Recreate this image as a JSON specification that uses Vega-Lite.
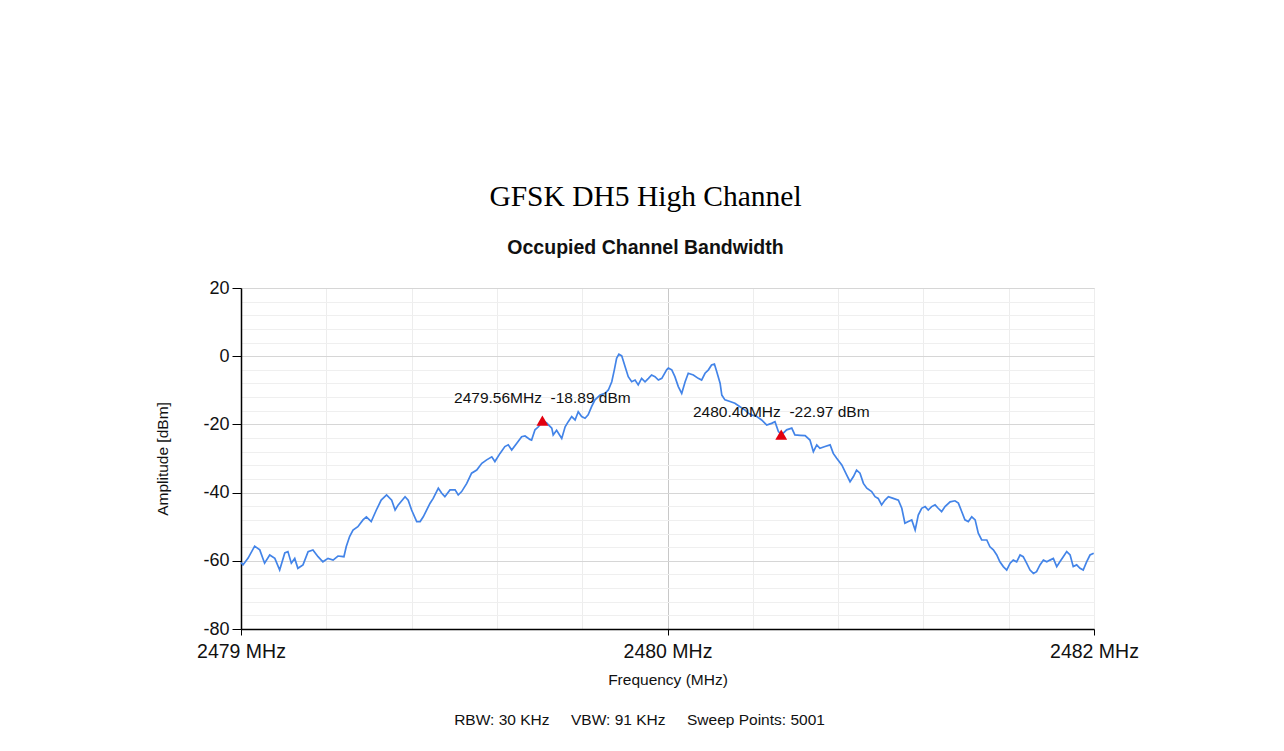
{
  "$schema": "https://vega.github.io/schema/vega-lite/v6.json",
  "width": 853,
  "height": 341,
  "autosize": "none",
  "padding": {"left": 241, "top": 288, "right": 190, "bottom": 122},
  "background": "white",
  "config": {
    "view": {"stroke": "#d6d6d6"},
    "font": "Liberation Sans"
  },
  "title": {
    "text": "GFSK DH5 High Channel",
    "subtitle": "Occupied Channel Bandwidth",
    "font": "Liberation Serif",
    "fontSize": 29.5,
    "fontWeight": "normal",
    "color": "#000000",
    "subtitleFont": "Liberation Sans",
    "subtitleFontSize": 19.5,
    "subtitleFontWeight": "bold",
    "subtitleColor": "#111111",
    "subtitlePadding": 26,
    "offset": 21,
    "dx": -22,
    "anchor": "middle"
  },
  "datasets": {
    "trace": [
      {"f": 2478.5, "a": -60.5}, {"f": 2478.507, "a": -61.2}, {"f": 2478.525, "a": -59.2}, {"f": 2478.548, "a": -55.7},
      {"f": 2478.566, "a": -56.8}, {"f": 2478.583, "a": -60.7}, {"f": 2478.601, "a": -58.3}, {"f": 2478.619, "a": -59.3},
      {"f": 2478.636, "a": -62.7}, {"f": 2478.654, "a": -57.7}, {"f": 2478.665, "a": -57.3}, {"f": 2478.677, "a": -60.7},
      {"f": 2478.689, "a": -59.3}, {"f": 2478.700, "a": -62.2}, {"f": 2478.718, "a": -61.2}, {"f": 2478.736, "a": -57.3},
      {"f": 2478.753, "a": -56.8}, {"f": 2478.771, "a": -58.8}, {"f": 2478.788, "a": -60.3}, {"f": 2478.806, "a": -59.3},
      {"f": 2478.824, "a": -59.8}, {"f": 2478.841, "a": -58.6}, {"f": 2478.862, "a": -58.8}, {"f": 2478.870, "a": -55.9},
      {"f": 2478.882, "a": -52.9}, {"f": 2478.894, "a": -51.0}, {"f": 2478.911, "a": -50.0}, {"f": 2478.929, "a": -48.0},
      {"f": 2478.941, "a": -47.1}, {"f": 2478.958, "a": -48.5}, {"f": 2478.976, "a": -45.1}, {"f": 2478.993, "a": -42.2},
      {"f": 2479.012, "a": -40.7}, {"f": 2479.030, "a": -42.2}, {"f": 2479.042, "a": -45.1}, {"f": 2479.053, "a": -43.6},
      {"f": 2479.077, "a": -41.2}, {"f": 2479.088, "a": -42.2}, {"f": 2479.100, "a": -45.1}, {"f": 2479.118, "a": -48.5},
      {"f": 2479.130, "a": -48.5}, {"f": 2479.141, "a": -47.1}, {"f": 2479.165, "a": -43.1}, {"f": 2479.176, "a": -41.7},
      {"f": 2479.194, "a": -38.7}, {"f": 2479.206, "a": -40.2}, {"f": 2479.217, "a": -41.2}, {"f": 2479.235, "a": -39.2},
      {"f": 2479.253, "a": -39.2}, {"f": 2479.264, "a": -40.7}, {"f": 2479.276, "a": -39.7}, {"f": 2479.294, "a": -37.3},
      {"f": 2479.311, "a": -34.3}, {"f": 2479.329, "a": -33.4}, {"f": 2479.347, "a": -31.4}, {"f": 2479.364, "a": -30.4},
      {"f": 2479.382, "a": -29.5}, {"f": 2479.393, "a": -30.9}, {"f": 2479.411, "a": -28.5}, {"f": 2479.428, "a": -26.5},
      {"f": 2479.440, "a": -26.0}, {"f": 2479.452, "a": -27.5}, {"f": 2479.470, "a": -25.5}, {"f": 2479.487, "a": -23.6},
      {"f": 2479.499, "a": -23.4}, {"f": 2479.516, "a": -24.4}, {"f": 2479.522, "a": -24.6}, {"f": 2479.534, "a": -21.6},
      {"f": 2479.546, "a": -20.7}, {"f": 2479.562, "a": -18.9}, {"f": 2479.575, "a": -19.6}, {"f": 2479.593, "a": -21.1},
      {"f": 2479.598, "a": -23.1}, {"f": 2479.610, "a": -21.7}, {"f": 2479.628, "a": -24.1}, {"f": 2479.640, "a": -20.7},
      {"f": 2479.651, "a": -19.2}, {"f": 2479.663, "a": -17.7}, {"f": 2479.675, "a": -18.7}, {"f": 2479.686, "a": -16.3},
      {"f": 2479.698, "a": -17.7}, {"f": 2479.710, "a": -18.2}, {"f": 2479.721, "a": -17.2}, {"f": 2479.733, "a": -14.8},
      {"f": 2479.745, "a": -12.8}, {"f": 2479.763, "a": -11.4}, {"f": 2479.780, "a": -10.9}, {"f": 2479.792, "a": -9.9},
      {"f": 2479.804, "a": -7.5}, {"f": 2479.813, "a": -4.0}, {"f": 2479.821, "a": -0.6}, {"f": 2479.829, "a": 0.6},
      {"f": 2479.839, "a": 0.1}, {"f": 2479.851, "a": -3.1}, {"f": 2479.862, "a": -6.0}, {"f": 2479.874, "a": -7.5},
      {"f": 2479.886, "a": -7.0}, {"f": 2479.897, "a": -8.4}, {"f": 2479.909, "a": -6.5}, {"f": 2479.921, "a": -7.5},
      {"f": 2479.933, "a": -6.5}, {"f": 2479.944, "a": -5.5}, {"f": 2479.956, "a": -6.0}, {"f": 2479.968, "a": -7.0},
      {"f": 2479.980, "a": -6.5}, {"f": 2479.997, "a": -4.0}, {"f": 2480.003, "a": -3.5}, {"f": 2480.015, "a": -4.0},
      {"f": 2480.026, "a": -6.0}, {"f": 2480.038, "a": -8.9}, {"f": 2480.050, "a": -10.9}, {"f": 2480.062, "a": -7.5},
      {"f": 2480.073, "a": -5.0}, {"f": 2480.091, "a": -5.5}, {"f": 2480.108, "a": -6.5}, {"f": 2480.120, "a": -7.0},
      {"f": 2480.132, "a": -5.0}, {"f": 2480.144, "a": -4.0}, {"f": 2480.155, "a": -2.6}, {"f": 2480.165, "a": -2.3},
      {"f": 2480.173, "a": -4.5}, {"f": 2480.185, "a": -7.9}, {"f": 2480.191, "a": -11.4}, {"f": 2480.202, "a": -12.8},
      {"f": 2480.220, "a": -13.3}, {"f": 2480.237, "a": -13.8}, {"f": 2480.255, "a": -14.8}, {"f": 2480.273, "a": -15.8},
      {"f": 2480.284, "a": -16.7}, {"f": 2480.296, "a": -17.2}, {"f": 2480.314, "a": -17.7}, {"f": 2480.331, "a": -18.7},
      {"f": 2480.349, "a": -20.2}, {"f": 2480.366, "a": -19.7}, {"f": 2480.378, "a": -19.2}, {"f": 2480.390, "a": -22.1},
      {"f": 2480.402, "a": -23.0}, {"f": 2480.419, "a": -21.6}, {"f": 2480.437, "a": -21.1}, {"f": 2480.448, "a": -23.1},
      {"f": 2480.466, "a": -23.2}, {"f": 2480.484, "a": -23.3}, {"f": 2480.501, "a": -24.6}, {"f": 2480.513, "a": -28.0},
      {"f": 2480.525, "a": -26.0}, {"f": 2480.536, "a": -27.0}, {"f": 2480.554, "a": -26.5}, {"f": 2480.572, "a": -26.0},
      {"f": 2480.583, "a": -28.5}, {"f": 2480.595, "a": -29.9}, {"f": 2480.613, "a": -31.9}, {"f": 2480.630, "a": -34.8},
      {"f": 2480.642, "a": -36.8}, {"f": 2480.654, "a": -35.3}, {"f": 2480.665, "a": -33.4}, {"f": 2480.677, "a": -34.3},
      {"f": 2480.689, "a": -37.3}, {"f": 2480.701, "a": -38.7}, {"f": 2480.718, "a": -39.7}, {"f": 2480.730, "a": -41.2},
      {"f": 2480.741, "a": -41.7}, {"f": 2480.753, "a": -43.6}, {"f": 2480.765, "a": -42.2}, {"f": 2480.777, "a": -41.2},
      {"f": 2480.794, "a": -41.7}, {"f": 2480.812, "a": -42.2}, {"f": 2480.824, "a": -44.6}, {"f": 2480.835, "a": -49.0},
      {"f": 2480.847, "a": -48.5}, {"f": 2480.859, "a": -48.0}, {"f": 2480.871, "a": -51.0}, {"f": 2480.882, "a": -46.6},
      {"f": 2480.894, "a": -44.6}, {"f": 2480.906, "a": -44.1}, {"f": 2480.917, "a": -45.1}, {"f": 2480.929, "a": -44.1},
      {"f": 2480.941, "a": -43.6}, {"f": 2480.952, "a": -44.6}, {"f": 2480.964, "a": -45.6}, {"f": 2480.976, "a": -44.1},
      {"f": 2480.994, "a": -42.7}, {"f": 2481.011, "a": -42.4}, {"f": 2481.023, "a": -43.1}, {"f": 2481.035, "a": -45.6},
      {"f": 2481.046, "a": -48.0}, {"f": 2481.058, "a": -48.5}, {"f": 2481.070, "a": -47.1}, {"f": 2481.082, "a": -48.0},
      {"f": 2481.093, "a": -51.9}, {"f": 2481.105, "a": -53.9}, {"f": 2481.123, "a": -53.9}, {"f": 2481.134, "a": -55.9},
      {"f": 2481.146, "a": -56.8}, {"f": 2481.158, "a": -58.3}, {"f": 2481.169, "a": -60.3}, {"f": 2481.181, "a": -61.7},
      {"f": 2481.193, "a": -62.7}, {"f": 2481.205, "a": -60.7}, {"f": 2481.216, "a": -59.8}, {"f": 2481.228, "a": -60.3},
      {"f": 2481.240, "a": -58.3}, {"f": 2481.251, "a": -58.8}, {"f": 2481.263, "a": -60.7}, {"f": 2481.275, "a": -62.7},
      {"f": 2481.287, "a": -63.7}, {"f": 2481.298, "a": -63.2}, {"f": 2481.310, "a": -61.2}, {"f": 2481.322, "a": -59.8},
      {"f": 2481.334, "a": -60.3}, {"f": 2481.345, "a": -59.8}, {"f": 2481.357, "a": -59.3}, {"f": 2481.369, "a": -61.7},
      {"f": 2481.380, "a": -60.3}, {"f": 2481.392, "a": -58.8}, {"f": 2481.404, "a": -57.3}, {"f": 2481.416, "a": -58.3},
      {"f": 2481.427, "a": -61.7}, {"f": 2481.439, "a": -61.2}, {"f": 2481.451, "a": -62.2}, {"f": 2481.462, "a": -62.7},
      {"f": 2481.474, "a": -60.3}, {"f": 2481.486, "a": -58.3}, {"f": 2481.499, "a": -57.8}
    ],
    "markers": [
      {"f": 2479.56, "a": -18.89, "label": "2479.56MHz\u00a0\u00a0-18.89 dBm"},
      {"f": 2480.40, "a": -22.97, "label": "2480.40MHz\u00a0\u00a0-22.97 dBm"}
    ]
  },
  "resolve": {"axis": {"x": "independent"}},
  "encoding": {
    "y": {
      "field": "a",
      "type": "quantitative",
      "scale": {"domain": [-80, 20], "nice": false, "zero": false},
      "axis": {
        "values": [-80, -76, -72, -68, -64, -60, -56, -52, -48, -44, -40, -36, -32, -28, -24, -20, -16, -12, -8, -4, 0, 4, 8, 12, 16, 20],
        "labelExpr": "datum.value % 20 === 0 ? '' + datum.value : ''",
        "labelFontSize": 18,
        "labelColor": "#111111",
        "labelPadding": 3,
        "tickSize": 9,
        "tickColor": "#000000",
        "tickOpacity": {"condition": {"test": "datum.value % 20 === 0", "value": 1}, "value": 0},
        "domainColor": "#000000",
        "domainWidth": 1.5,
        "gridColor": {"condition": {"test": "datum.value % 20 === 0", "value": "#d6d6d6"}, "value": "#efefef"},
        "gridOpacity": 1,
        "title": "Amplitude [dBm]",
        "titleFontSize": 15.5,
        "titleFontWeight": "normal",
        "titleColor": "#111111",
        "titlePadding": 32
      }
    }
  },
  "layer": [
    {
      "data": {"name": "trace"},
      "mark": {"type": "line", "color": "#4384e8", "strokeWidth": 1.7, "interpolate": "linear"},
      "encoding": {
        "x": {
          "field": "f",
          "type": "quantitative",
          "scale": {"domain": [2478.5, 2481.5], "nice": false, "zero": false},
          "axis": {
            "orient": "bottom",
            "values": [2478.5, 2478.8, 2479.1, 2479.4, 2479.7, 2480, 2480.3, 2480.6, 2480.9, 2481.2, 2481.5],
            "labelExpr": "(abs(datum.value-2480)<0.01 || abs(datum.value-2478.5)<0.01 || abs(datum.value-2481.5)<0.01) ? format(round(datum.value),'d') + ' MHz' : ''",
            "labelFlush": false,
            "labelOverlap": false,
            "labelFontSize": 19.5,
            "labelColor": "#111111",
            "labelPadding": 7,
            "tickSize": 6,
            "tickColor": "#000000",
            "tickOpacity": {"condition": {"test": "abs(datum.value-2480)<0.01 || abs(datum.value-2478.5)<0.01 || abs(datum.value-2481.5)<0.01", "value": 1}, "value": 0},
            "domainColor": "#000000",
            "domainWidth": 1.5,
            "gridColor": {"condition": {"test": "abs(datum.value-2480)<0.01", "value": "#c8c8c8"}, "value": "#ededed"},
            "gridOpacity": 1,
            "title": "Frequency (MHz)",
            "titleFontSize": 15.5,
            "titleFontWeight": "normal",
            "titleColor": "#111111",
            "titlePadding": 12
          }
        }
      }
    },
    {
      "data": {"name": "markers"},
      "mark": {"type": "point", "shape": "triangle-up", "filled": true, "color": "#e3000f", "size": 140, "opacity": 1},
      "encoding": {
        "x": {
          "field": "f",
          "type": "quantitative",
          "axis": {
            "orient": "bottom",
            "labels": false,
            "ticks": false,
            "domain": false,
            "grid": false,
            "title": "RBW: 30 KHz\u00a0\u00a0\u00a0\u00a0\u00a0VBW: 91 KHz\u00a0\u00a0\u00a0\u00a0\u00a0Sweep Points: 5001",
            "titleX": 398,
            "titleFontSize": 15.5,
            "titleFontWeight": "normal",
            "titleColor": "#111111",
            "titlePadding": 83
          }
        }
      }
    },
    {
      "data": {"name": "markers"},
      "mark": {"type": "text", "dy": -23, "fontSize": 15.5, "color": "#111111", "font": "Liberation Sans"},
      "encoding": {
        "x": {"field": "f", "type": "quantitative", "axis": null},
        "text": {"field": "label", "type": "nominal"}
      }
    }
  ]
}
